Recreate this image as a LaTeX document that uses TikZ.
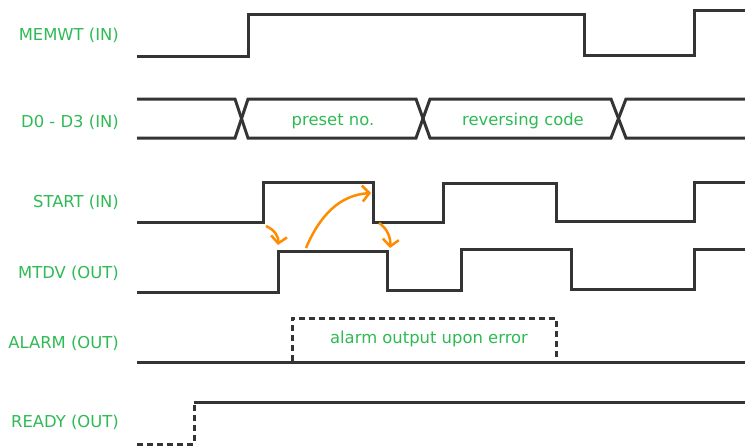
\documentclass[tikz,border=0pt]{standalone}
\usepackage{fontspec}
\setmainfont{DejaVu Sans}
\usetikzlibrary{arrows.meta}
\definecolor{lblgreen}{RGB}{46,186,84}
\definecolor{wave}{RGB}{52,52,52}
\definecolor{arr}{RGB}{255,140,0}
\begin{document}
\begin{tikzpicture}[x=1pt,y=-1pt,
  sig/.style={draw=wave,line width=3pt,line join=miter},
  dsig/.style={sig,dash pattern=on 6pt off 4pt},
  lbl/.style={text=lblgreen,font=\fontsize{16.4}{19}\selectfont,anchor=base east,inner sep=0pt},
  inlbl/.style={text=lblgreen,font=\fontsize{16.4}{19}\selectfont,anchor=base,inner sep=0pt},
  causal/.style={draw=arr,line width=2.5pt,-{Straight Barb[length=7pt,width=16pt,line width=2.5pt]}}]
\useasboundingbox (0,0) rectangle (745,445);
% labels
\node[lbl] (l1) at (119,40) {MEMWT (IN)};
\node[lbl] (l2) at (119,127) {D0 - D3 (IN)};
\node[lbl] (l3) at (119,207) {START (IN)};
\node[lbl] (l4) at (119,278) {MTDV (OUT)};
\node[lbl] (l5) at (119,348) {ALARM (OUT)};
\node[lbl] (l6) at (119,427) {READY (OUT)};
% MEMWT
\draw[sig] (137,56) -- (248,56) -- (248,14) -- (584,14) -- (584,55) -- (694,55) -- (694,10) -- (746,10);
% D0-D3
\draw[sig] (137,99) -- (235,99) -- (248,138) -- (416,138) -- (430,99) -- (611,99) -- (626,138) -- (746,138);
\draw[sig] (137,138) -- (235,138) -- (248,99) -- (416,99) -- (430,138) -- (611,138) -- (626,99) -- (746,99);
\node[inlbl] (t1) at (333,125) {preset no.};
\node[inlbl] (t2) at (523,125) {reversing code};
% START
\draw[sig] (137,222) -- (263,222) -- (263,182) -- (373,182) -- (373,222) -- (443,222) -- (443,183) -- (556,183) -- (556,221) -- (694,221) -- (694,182) -- (746,182);
% MTDV
\draw[sig] (137,292) -- (278,292) -- (278,251) -- (387,251) -- (387,290) -- (461,290) -- (461,249) -- (571,249) -- (571,289) -- (694,289) -- (694,249) -- (746,249);
% ALARM
\draw[sig] (137,362) -- (746,362);
\draw[dsig] (292,361) -- (292,318) -- (556,318) -- (556,361);
\node[inlbl] (t3) at (429,343) {alarm output upon error};
% READY
\draw[dsig] (137,444) -- (194,444) -- (194,402);
\draw[sig] (194,402) -- (746,402);
% causal arrows
\coordinate (a1s) at (266,226);
\coordinate (a1e) at (278,245);
\coordinate (a2s) at (306,248);
\coordinate (a2e) at (371,193);
\coordinate (a3s) at (379,223);
\coordinate (a3e) at (390,248);
\draw[causal] (a1s) .. controls (275,230) and (279,237) .. (a1e);
\draw[causal] (a2s) .. controls (320,215) and (340,195) .. (a2e);
\draw[causal] (a3s) .. controls (387,228) and (391,238) .. (a3e);
\end{tikzpicture}
\end{document}
